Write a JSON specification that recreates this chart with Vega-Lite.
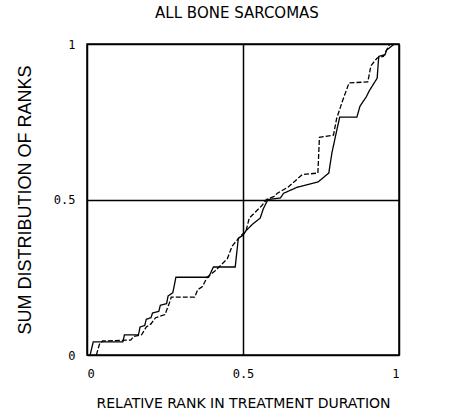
{
  "$schema": "https://vega.github.io/schema/vega-lite/v6.json",
  "width": 312,
  "height": 311,
  "autosize": {"type": "none"},
  "padding": {"left": 87, "top": 44, "right": 55, "bottom": 63},
  "background": "white",
  "title": {
    "text": "ALL BONE SARCOMAS",
    "font": "DejaVu Sans",
    "fontSize": 15,
    "fontWeight": "normal",
    "color": "black",
    "offset": 17,
    "anchor": "middle",
    "dx": -6
  },
  "config": {
    "view": {"stroke": "black", "strokeWidth": 1.5},
    "axis": {
      "domain": false,
      "ticks": false,
      "labelFont": "DejaVu Sans Mono",
      "labelFontSize": 12,
      "labelColor": "black",
      "titleColor": "black",
      "titleFontWeight": "normal"
    }
  },
  "data": {
    "values": [
      {"series": "A", "x": 0.01, "y": 0.0},
      {"series": "A", "x": 0.02, "y": 0.042},
      {"series": "A", "x": 0.115, "y": 0.042},
      {"series": "A", "x": 0.12, "y": 0.065},
      {"series": "A", "x": 0.165, "y": 0.065},
      {"series": "A", "x": 0.17, "y": 0.09},
      {"series": "A", "x": 0.185, "y": 0.095},
      {"series": "A", "x": 0.19, "y": 0.115},
      {"series": "A", "x": 0.205, "y": 0.12},
      {"series": "A", "x": 0.21, "y": 0.135},
      {"series": "A", "x": 0.23, "y": 0.14},
      {"series": "A", "x": 0.235, "y": 0.16},
      {"series": "A", "x": 0.255, "y": 0.165},
      {"series": "A", "x": 0.26, "y": 0.19},
      {"series": "A", "x": 0.275, "y": 0.2},
      {"series": "A", "x": 0.285, "y": 0.25},
      {"series": "A", "x": 0.39, "y": 0.25},
      {"series": "A", "x": 0.405, "y": 0.283},
      {"series": "A", "x": 0.475, "y": 0.283},
      {"series": "A", "x": 0.485, "y": 0.375},
      {"series": "A", "x": 0.5, "y": 0.385},
      {"series": "A", "x": 0.51, "y": 0.4},
      {"series": "A", "x": 0.53, "y": 0.42},
      {"series": "A", "x": 0.555, "y": 0.44},
      {"series": "A", "x": 0.565, "y": 0.47},
      {"series": "A", "x": 0.58, "y": 0.5},
      {"series": "A", "x": 0.62, "y": 0.505},
      {"series": "A", "x": 0.63, "y": 0.52},
      {"series": "A", "x": 0.675, "y": 0.54},
      {"series": "A", "x": 0.74, "y": 0.556},
      {"series": "A", "x": 0.775, "y": 0.585},
      {"series": "A", "x": 0.785, "y": 0.65},
      {"series": "A", "x": 0.8, "y": 0.72},
      {"series": "A", "x": 0.81, "y": 0.765},
      {"series": "A", "x": 0.865, "y": 0.765},
      {"series": "A", "x": 0.875, "y": 0.8},
      {"series": "A", "x": 0.895, "y": 0.83},
      {"series": "A", "x": 0.905, "y": 0.85},
      {"series": "A", "x": 0.93, "y": 0.89},
      {"series": "A", "x": 0.935, "y": 0.96},
      {"series": "A", "x": 0.955, "y": 0.965},
      {"series": "A", "x": 0.96, "y": 0.98},
      {"series": "A", "x": 0.985, "y": 1.0},
      {"series": "B", "x": 0.03, "y": 0.0},
      {"series": "B", "x": 0.04, "y": 0.035},
      {"series": "B", "x": 0.05, "y": 0.045},
      {"series": "B", "x": 0.14, "y": 0.048},
      {"series": "B", "x": 0.15, "y": 0.06},
      {"series": "B", "x": 0.175, "y": 0.065},
      {"series": "B", "x": 0.19, "y": 0.09},
      {"series": "B", "x": 0.205, "y": 0.1},
      {"series": "B", "x": 0.22, "y": 0.12},
      {"series": "B", "x": 0.25, "y": 0.13},
      {"series": "B", "x": 0.265, "y": 0.17},
      {"series": "B", "x": 0.27, "y": 0.186},
      {"series": "B", "x": 0.345, "y": 0.186},
      {"series": "B", "x": 0.355, "y": 0.21},
      {"series": "B", "x": 0.37, "y": 0.22},
      {"series": "B", "x": 0.385, "y": 0.25},
      {"series": "B", "x": 0.41, "y": 0.27},
      {"series": "B", "x": 0.43, "y": 0.29},
      {"series": "B", "x": 0.45, "y": 0.31},
      {"series": "B", "x": 0.465, "y": 0.35},
      {"series": "B", "x": 0.49, "y": 0.38},
      {"series": "B", "x": 0.51, "y": 0.4},
      {"series": "B", "x": 0.52, "y": 0.44},
      {"series": "B", "x": 0.54, "y": 0.46},
      {"series": "B", "x": 0.56, "y": 0.48},
      {"series": "B", "x": 0.575, "y": 0.5},
      {"series": "B", "x": 0.6, "y": 0.51},
      {"series": "B", "x": 0.61, "y": 0.52},
      {"series": "B", "x": 0.645, "y": 0.54},
      {"series": "B", "x": 0.69, "y": 0.58},
      {"series": "B", "x": 0.74, "y": 0.585},
      {"series": "B", "x": 0.745, "y": 0.7},
      {"series": "B", "x": 0.79, "y": 0.707},
      {"series": "B", "x": 0.8, "y": 0.76},
      {"series": "B", "x": 0.82, "y": 0.82},
      {"series": "B", "x": 0.84, "y": 0.875},
      {"series": "B", "x": 0.9, "y": 0.878},
      {"series": "B", "x": 0.91, "y": 0.93},
      {"series": "B", "x": 0.93, "y": 0.955},
      {"series": "B", "x": 0.95, "y": 0.96},
      {"series": "B", "x": 0.97, "y": 1.0}
    ]
  },
  "mark": {"type": "line", "color": "black", "strokeWidth": 1.3, "clip": true},
  "encoding": {
    "x": {
      "field": "x",
      "type": "quantitative",
      "scale": {"domain": [0, 1], "nice": false, "zero": false},
      "axis": {
        "values": [0, 0.5, 1],
        "format": "~g",
        "labelPadding": 13,
        "grid": true,
        "gridColor": "black",
        "gridOpacity": 1,
        "gridWidth": 1.5,
        "title": "RELATIVE RANK IN TREATMENT DURATION",
        "titleFont": "DejaVu Sans",
        "titleFontSize": 14,
        "titlePadding": 17
      }
    },
    "y": {
      "field": "y",
      "type": "quantitative",
      "scale": {"domain": [0, 1], "nice": false, "zero": false},
      "axis": {
        "values": [0, 0.5, 1],
        "format": "~g",
        "labelPadding": 12,
        "grid": true,
        "gridColor": "black",
        "gridOpacity": 1,
        "gridWidth": 1.5,
        "title": "SUM DISTRIBUTION OF RANKS",
        "titleFont": "Liberation Sans",
        "titleFontSize": 18,
        "titlePadding": 19
      }
    },
    "detail": {"field": "series"},
    "strokeDash": {
      "field": "series",
      "type": "nominal",
      "scale": {"domain": ["A", "B"], "range": [[1, 0], [5, 2]]},
      "legend": null
    }
  }
}
